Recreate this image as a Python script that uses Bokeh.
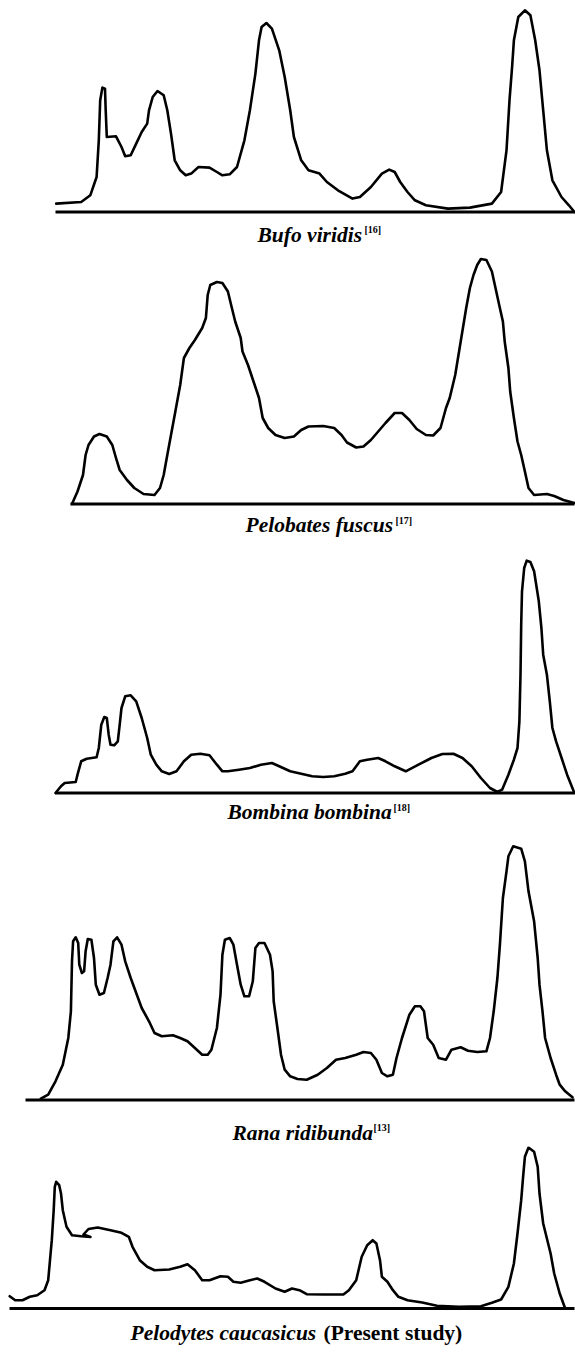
from bokeh.plotting import figure
from bokeh.layouts import column
from bokeh.models import Range1d
from bokeh.embed import file_html
from bokeh.resources import INLINE
from bokeh.core.properties import value

# ---------------- data (position along gel, band intensity above baseline) ----------------
bufo_x = [55.7, 80.7, 89.8, 96.1, 98.3, 99.7, 101.9, 104.5, 105.2, 106.3, 115.5, 121, 124.7, 130.2,
          135.7, 141.2, 146.7, 148.5, 152.2, 157, 163.2, 166.8, 170.5, 174.2, 179.7, 185.2, 190.7,
          198, 209, 216.4, 221.9, 229.2, 236.5, 243.9, 249.4, 254.9, 258.5, 261.1, 265.9, 271.4,
          278.7, 284.2, 289.7, 293.4, 300.7, 308, 319, 326.4, 337.4, 352, 359.4, 370.4, 381.4,
          388.7, 394.2, 399.7, 407, 414.4, 425.4, 447.4, 469.4, 491.4, 500.6, 506, 509, 511.6,
          513.4, 517.8, 524.4, 529.9, 534.7, 539, 542.7, 546.4, 551.9, 561, 568.4, 573.9]
bufo_y = [8.4, 10, 16.7, 35, 71.7, 111.7, 124.4, 123.4, 101.7, 75, 75.7, 65, 55.7, 56.7,
          68.4, 80, 88.4, 101.7, 115, 121, 116.7, 101.7, 78.4, 51.7, 41.7, 36.7, 38.4,
          45, 44.4, 40, 36.7, 37.7, 45, 71.7, 101.7, 138.4, 171.7, 185, 189, 183.4,
          161.7, 135, 101.7, 75, 51.7, 41.7, 38.4, 30, 21.7, 13.4, 15, 25, 38.4,
          42.4, 40, 30, 20, 11.7, 6.7, 3.4, 4.4, 8.4, 20, 61.7, 111.7, 145,
          171.7, 195, 201.7, 196.7, 171.7, 141.7, 101.7, 61.7, 31.7, 15, 6.7, 0]

pelobates_x = [71.5, 77, 82.5, 85.1, 88, 93.5, 99, 106.3, 111.8, 115.5, 119.2, 126.5, 133.8, 143,
               154, 159.5, 163.2, 166.8, 170.5, 174.2, 179.7, 183.4, 188.9, 194.4, 201.7, 205.4,
               207.2, 209.8, 216.4, 221.9, 227.4, 231, 234.7, 240.2, 242, 247.5, 253, 258.5, 262.2,
               267.7, 275, 284.2, 293.4, 300.7, 308, 322.7, 333.7, 341, 346.5, 355.7, 363, 370.4,
               377.7, 385, 394.2, 401.5, 408.9, 416.2, 425.4, 432.7, 440, 445.5, 449.2, 454.7,
               460.2, 465.7, 469.4, 473, 476.7, 480.4, 485.9, 491.4, 495, 498.7, 502.4, 504.2,
               507.9, 509.7, 513.4, 517, 520.7, 524.4, 528, 533.6, 546.4, 553.7, 562.9, 573.9]
pelobates_y = [0, 12.5, 29, 49, 59, 67.5, 70, 67.5, 59, 46, 34, 24, 16, 10,
               9, 16, 29, 49, 69, 89, 119, 146, 156, 164, 176, 186,
               209, 219, 222, 221, 212.5, 197.5, 182.5, 166, 152.5, 139, 122.5, 106, 86,
               76, 69, 66, 67.5, 74, 77.5, 78, 76, 69, 61.5, 56.5, 57.5, 64,
               72.5, 81, 91, 91, 84, 75, 69, 68.5, 76, 96, 106, 129,
               162.5, 196, 216, 229, 239, 245, 244, 232.5, 216, 199, 182.5, 162.5,
               136, 112.5, 86, 62.5, 49, 32.5, 16, 9, 10, 8, 4, 1]

bombina_x = [55, 60.5, 64.2, 75.2, 77, 80.7, 86.2, 96.1, 98.3, 100.8, 103.8, 106.3, 108.2, 110,
             113.7, 117.3, 119.2, 121, 124.7, 130.2, 135.7, 141.2, 146.7, 150.3, 155.8, 161.3,
             168.7, 176, 183.4, 190.7, 199.9, 209, 216.4, 221.9, 227.4, 238.4, 249.4, 260.4,
             271.4, 278.7, 289.7, 300.7, 311.7, 322.7, 333.7, 344.7, 352, 359.4, 366.7, 377.7,
             385, 394.2, 405.2, 418, 430.9, 441.9, 452.9, 462, 471.2, 480.4, 489.5, 496.9, 501.6,
             507.9, 513.4, 517, 518.9, 520, 520.7, 521.5, 523.7, 526.2, 529.9, 533.6, 538.3,
             540.9, 542.7, 546.4, 549.3, 551.9, 555.6, 561.1, 566.6, 573.9]
bombina_y = [0, 6.7, 10, 11, 18.3, 31.7, 34.3, 35.7, 45, 68.3, 76, 75, 58.3, 48.3,
             47.7, 51.7, 68.3, 85, 96.7, 97.7, 91.7, 75, 55, 38.3, 28.3, 21.7,
             19, 21.7, 31.7, 38.3, 39.3, 37.7, 28.3, 21.7, 21.7, 23.3, 25, 28.3,
             30, 26.7, 21.7, 19.3, 16.7, 16, 16.7, 19.3, 21.7, 31.7, 33.3, 35,
             31.7, 26.7, 21.7, 28.3, 35, 39, 39.3, 35, 26.7, 15, 5, 1, 3.3,
             18.3, 33.3, 45, 71.7, 118.3, 168.3, 201.7, 225, 232.3, 231, 221.7, 191.7,
             165, 138.3, 118.3, 91.7, 65, 51.7, 35, 18.3, 0]

rana_x = [40.3, 47.7, 55, 62.3, 67.8, 70.4, 71.5, 72.6, 75.2, 77.7, 78.8, 81.4, 83.6, 85.1, 87.3,
          90.9, 93.5, 95.3, 99, 103.4, 107.1, 110, 112.9, 116.6, 121, 124.7, 130.2, 135.7, 141.2,
          148.5, 154, 161.3, 172.4, 179.7, 187, 194.4, 201.7, 207.2, 210.9, 216.4, 220, 221.9,
          224.4, 229.2, 232.9, 236.5, 240.2, 243.9, 248.6, 252.3, 254.9, 258.5, 264, 269.5,
          272.1, 273.2, 276.9, 280.5, 284.2, 289.7, 297, 306.2, 317.2, 326.4, 335.5, 344.7,
          355.7, 363, 370.4, 375.9, 381.4, 386.9, 392.4, 396, 401.5, 408.9, 414.4, 419.9, 423.5,
          427.2, 432.7, 438.2, 445.5, 451, 460.2, 467.5, 476.7, 485.9, 489.5, 493.2, 496.9,
          499.4, 502.4, 506, 507.9, 512.7, 520.7, 524.4, 528, 533.6, 537.2, 539, 542, 544.6,
          550.1, 555.6, 559.2, 564.7, 572]
rana_y = [1.3, 5.3, 18.7, 35.3, 62, 88.7, 138.7, 158.7, 162.7, 157, 135.3, 127, 128.7, 148.7, 161,
          160.3, 142, 115.3, 105.3, 107, 122, 135.3, 158.7, 162.7, 155.3, 138.7, 122, 107, 92,
          78.7, 67, 63.7, 64.7, 62, 58.7, 52, 45.3, 45.3, 50.3, 72, 105.3, 145.3,
          160.3, 162, 155.3, 135.3, 115.3, 103.7, 103.7, 118.7, 152, 157, 157, 145.3,
          128.7, 98.7, 72, 45.3, 30.3, 23.7, 21, 20.3, 25.3, 32, 40.3, 42,
          45.3, 48, 47, 40.3, 27, 23.7, 25.3, 42, 62, 85.3, 93.7, 93.7, 88.7,
          62, 55.3, 42, 40.3, 50.3, 52.7, 49.3, 48, 48.7, 62, 88.7, 122,
          155.3, 202, 228.7, 243.7, 253.7, 251.3, 238.7, 208.7, 178.7, 142, 115.3, 88.7, 62,
          42, 25.3, 15.3, 8.7, 2.7]

pelodytes_x = [9.2, 14.7, 22, 29.3, 36.7, 44, 47.7, 49.5, 51.3, 53.2, 54.3, 55.7, 58.7, 60.5, 62.3,
               66, 71.5, 80.7, 90, 83, 88, 97.2, 110, 121, 128.3, 132, 139.3, 146.7, 154, 168.7,
               179.7, 187, 194.4, 201.7, 209, 220, 227.4, 232.9, 240.2, 249.4, 256.7, 264, 275,
               284.2, 291.5, 298.9, 306.2, 322.7, 342.9, 348.4, 355.7, 361.2, 366.7, 372.2, 375.9,
               379.5, 381.4, 386.9, 392.4, 397.9, 407, 421.7, 436.4, 458.4, 480.4, 491.4, 500.6,
               507.9, 513.4, 517, 520.7, 522.6, 524.4, 528, 533.6, 537.2, 539, 542.7, 550.1, 553.7,
               559.2, 564.7]
pelodytes_y = [12.3, 8.3, 8.3, 11.7, 13.3, 18.3, 28.3, 48.3, 68.3, 98.3, 121.7, 126.7, 123.3, 115, 98.3,
               81.7, 73.3, 72.3, 71.5, 74, 79.5, 81, 78.3, 75.7, 71.7, 61.7, 48.3, 41.7, 38.3, 39,
               41.7, 44.3, 38.3, 28.3, 28.3, 32.3, 31.7, 26.7, 25.7, 28.3, 30, 26.7, 20,
               16.7, 20, 18.3, 14.3, 14, 14, 18.3, 28.3, 51.7, 63.3, 68.3, 65,
               48.3, 31.7, 26.7, 18.3, 11.7, 8.3, 6, 2.7, 1.7, 2.3, 5.7, 9,
               21.7, 45, 75, 108.3, 131.7, 151.7, 161, 156.7, 141.7, 115, 85, 55, 35,
               15, 0]

species = ["Bufo viridis", "Pelobates fuscus", "Bombina bombina", "Rana ridibunda", "Pelodytes caucasicus"]
refs = ["[16]", "[17]", "[18]", "[13]", ""]
notes = ["", "", "", "", "(Present study)"]
traces_x = [bufo_x, pelobates_x, bombina_x, rana_x, pelodytes_x]
traces_y = [bufo_y, pelobates_y, bombina_y, rana_y, pelodytes_y]
baseline_start = [55, 70, 55, 25, 9]
baseline_end = [574, 574, 574, 574, 574]

# ---------------- layout (pixels) ----------------
panel_h = [251, 290, 288, 317, 207]
below_base = [39.5, 37.5, 36.5, 46.5, 45]       # space below baseline in each panel
cap_x = [257, 245, 227, 232, 130]
cap_y = [-22.5, -21, -19, -32.5, -24]            # vertical centre of caption letters
sup_x = [364, 395, 393, 373, 0]
note_x = [0, 0, 0, 0, 323]

FONT = value("Liberation Serif")
panels = []
for i in range(5):
    p = figure(width=575, height=panel_h[i], output_backend="svg", toolbar_location=None,
               x_axis_type=None, y_axis_type=None,
               x_range=Range1d(0, 575),
               y_range=Range1d(-below_base[i], panel_h[i] - below_base[i]),
               min_border=0, outline_line_color=None)
    p.min_border_left = p.min_border_right = p.min_border_top = p.min_border_bottom = 0
    p.grid.visible = False
    p.segment(x0=[baseline_start[i]], y0=[0], x1=[baseline_end[i]], y1=[0],
              line_color="black", line_width=2.8)
    p.line(traces_x[i], traces_y[i], line_color="black", line_width=2.6,
           line_join="round", line_cap="round")
    p.text(x=[cap_x[i]], y=[cap_y[i]], text=[species[i]], text_font=FONT,
           text_font_style="bold italic", text_font_size="21.5px", text_color="black",
           text_align="left", text_baseline="middle")
    if refs[i]:
        p.text(x=[sup_x[i]], y=[cap_y[i] + 5], text=[refs[i]], text_font=FONT,
               text_font_style="bold", text_font_size="10px", text_color="black",
               text_align="left", text_baseline="middle")
    if notes[i]:
        p.text(x=[note_x[i]], y=[cap_y[i]], text=[notes[i]], text_font=FONT,
               text_font_style="bold", text_font_size="21.5px", text_color="black",
               text_align="left", text_baseline="middle")
    panels.append(p)

layout = column(*panels, spacing=0)
open("out.html", "w").write(file_html(layout, INLINE))
